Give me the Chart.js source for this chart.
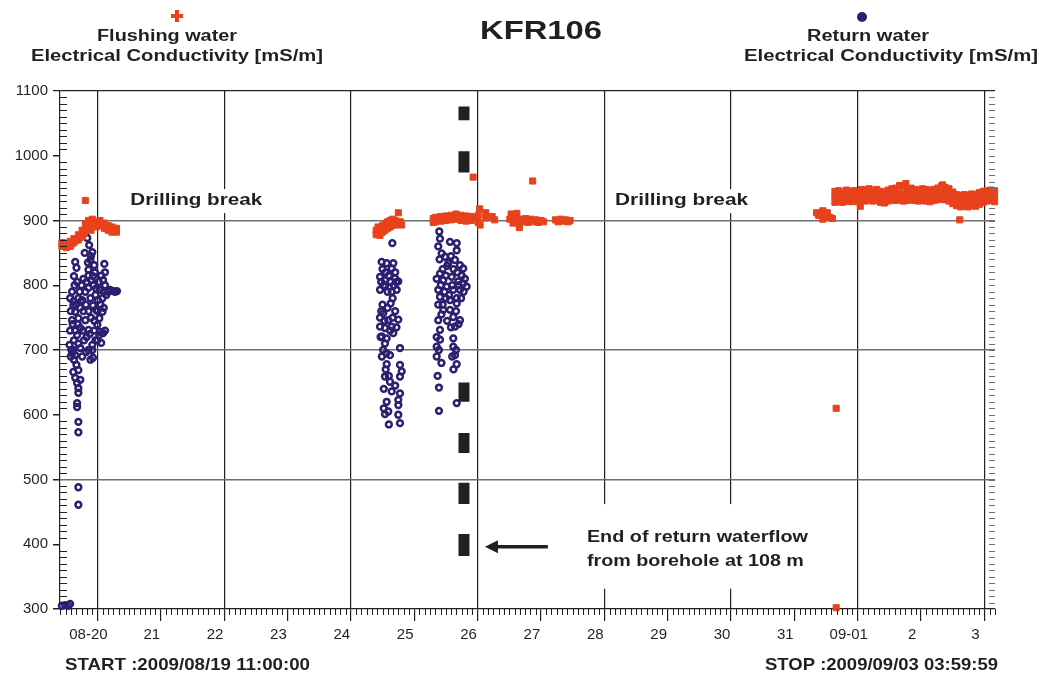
<!DOCTYPE html>
<html><head><meta charset="utf-8">
<script src="https://cdn.jsdelivr.net/npm/chart.js@4.4.1/dist/chart.umd.min.js"></script>
<style>html,body{margin:0;padding:0;background:#fff}#wrap{width:1039px;height:677px;position:relative}</style>
</head><body><div id="wrap"><canvas id="c"></canvas></div>
<script>
// x values are days of August 2009 (32 = Sep 1 00:00)
const xTickValues = [20,21,22,23,24,25,26,27,28,29,30,31,32,33,34];
const xTickLabels = ['08-20','21','22','23','24','25','26','27','28','29','30','31','09-01','2','3'];
const yTickValues = [300,400,500,600,700,800,900,1000,1100];

const flushingWater = [
[19.44,866],[19.44,860],[19.47,863],[19.51,865],[19.51,858],[19.54,862],[19.57,868],[19.57,860],[19.60,864],[19.63,872],[19.63,866],[19.66,869],[19.70,878],[19.70,870],
[19.73,874],[19.76,885],[19.76,875],[19.79,880],[19.81,895],[19.81,885],[19.81,931],[19.84,892],[19.86,900],[19.86,890],[19.90,885],[19.92,902],[19.92,893],
[19.95,896],[19.98,898],[19.98,890],[20.01,895],[20.04,900],[20.04,892],[20.08,894],[20.11,896],[20.11,888],[20.14,890],[20.17,892],[20.17,885],[20.20,887],[20.23,890],[20.23,882],[20.27,885],[20.30,888],[20.30,882],
[24.40,885],[24.40,878],[24.43,890],[24.43,880],[24.46,888],[24.46,877],[24.50,882],[24.50,892],[24.54,895],[24.54,885],[24.58,898],[24.58,888],
[24.62,900],[24.62,890],[24.66,902],[24.66,893],[24.70,900],[24.70,893],[24.74,897],[24.75,912],[24.78,898],[24.80,893],
[25.30,903],[25.30,897],[25.34,905],[25.34,898],[25.38,903],[25.42,906],[25.42,899],[25.46,904],[25.50,907],[25.50,900],[25.54,905],[25.58,908],
[25.58,901],[25.62,906],[25.66,910],[25.66,902],[25.70,906],[25.74,908],[25.74,900],[25.78,905],[25.82,907],[25.82,899],[25.86,904],[25.90,906],
[25.90,900],[25.94,905],[25.98,903],[26.01,908],[26.01,897],[26.03,918],[26.04,893],[25.93,967],[26.13,912],[26.13,904],[26.23,906],[26.27,901],
[26.51,902],[26.53,910],[26.56,896],[26.59,903],[26.62,911],[26.64,897],[26.66,889],[26.68,902],[26.72,898],[26.76,903],[26.80,897],[26.84,902],
[26.88,898],[26.92,901],[26.96,897],[27.00,900],[27.04,898],[26.87,961],
[27.23,901],[27.27,898],[27.31,902],[27.35,899],[27.39,901],[27.43,898],[27.46,900],
[31.35,912],[31.38,908],[31.42,910],[31.45,915],[31.45,902],[31.48,906],[31.52,912],[31.56,905],[31.60,903],
[31.66,610],[31.66,302],[32.04,922],[33.61,901],[32.76,957],[33.34,955],
[31.64,945],[31.64,937],[31.64,928],[31.70,946],[31.70,938],[31.70,929],[31.76,944],[31.76,936],[31.76,928],[31.82,947],[31.82,939],[31.82,930],
[31.88,945],[31.88,937],[31.88,929],[31.94,946],[31.94,938],[31.94,930],[32.00,944],[32.00,936],[32.00,929],[32.06,948],[32.06,940],[32.06,931],
[32.12,947],[32.12,938],[32.12,930],[32.18,949],[32.18,940],[32.18,932],[32.24,946],[32.24,938],[32.24,930],[32.30,948],[32.30,939],[32.30,931],
[32.36,945],[32.36,937],[32.36,928],[32.42,944],[32.42,936],[32.42,927],[32.48,947],[32.48,938],[32.48,930],[32.54,949],[32.54,940],[32.54,932],
[32.60,950],[32.60,940],[32.60,931],[32.66,954],[32.66,942],[32.66,932],[32.72,952],[32.72,940],[32.72,930],[32.78,948],[32.78,939],[32.78,931],
[32.84,950],[32.84,941],[32.84,932],[32.90,948],[32.90,940],[32.90,931],[32.96,947],[32.96,939],[32.96,930],[33.02,949],[33.02,940],[33.02,931],
[33.08,948],[33.08,939],[33.08,930],[33.14,946],[33.14,938],[33.14,929],[33.20,948],[33.20,940],[33.20,931],[33.26,950],[33.26,941],[33.26,932],
[33.32,953],[33.32,942],[33.32,933],[33.38,951],[33.38,941],[33.38,932],[33.44,949],[33.44,939],[33.44,930],[33.50,944],[33.50,935],[33.50,926],
[33.56,940],[33.56,931],[33.56,923],[33.62,938],[33.62,930],[33.62,921],[33.68,940],[33.68,931],[33.68,922],[33.74,939],[33.74,929],[33.74,921],
[33.80,941],[33.80,932],[33.80,923],[33.86,940],[33.86,931],[33.86,922],[33.92,943],[33.92,934],[33.92,925],[33.98,945],[33.98,937],[33.98,928],
[34.04,946],[34.04,938],[34.04,930],[34.10,947],[34.10,939],[34.10,931],[34.16,946],[34.16,937],[34.16,929]
];

const returnWater = [
[19.84,873],[19.87,862],[19.92,851],[19.89,839],[19.95,831],[19.86,824],[19.93,814],
[19.65,836],[19.67,827],[19.63,814],[20.11,833],[20.12,820],[20.09,808],[19.57,780],
[19.62,769],[19.65,759],[19.60,746],[19.70,749],[19.73,765],[19.76,777],[19.81,790],[19.86,796],[19.89,780],[19.93,769],[19.97,785],[20.01,777],
[20.04,793],[20.08,780],[20.12,800],[20.17,790],[20.20,793],[20.25,791],[20.28,790],[20.31,791],[19.98,762],[20.03,749],[20.08,759],[20.00,739],
[20.04,728],[19.97,715],[19.92,708],[19.86,731],[19.81,746],[19.73,734],[19.68,723],[19.63,715],[19.59,700],[19.56,708],[19.65,692],[19.73,703],
[19.79,715],[19.82,697],[19.89,685],[20.06,711],[20.09,726],[20.03,723],[19.92,700],[19.93,688],
[19.60,695],[19.63,685],[19.67,677],[19.62,666],[19.65,657],[19.70,669],[19.73,654],[19.68,649],[19.70,641],[19.70,634],[19.68,618],[19.68,612],
[19.70,589],[19.70,573],[19.70,488],[19.70,461],[19.44,305],[19.49,306],[19.54,305],[19.57,308],
[19.60,790],[19.64,800],[19.68,805],[19.72,790],[19.75,800],[19.78,810],[19.83,805],[19.86,815],[19.90,808],[19.94,800],[19.98,795],[20.02,805],
[20.06,815],[20.10,790],[20.14,785],[19.58,760],[19.62,775],[19.66,770],[19.70,780],[19.74,775],[19.78,760],[19.82,770],[19.86,760],[19.90,750],
[19.95,745],[20.00,760],[20.05,770],[20.10,765],[19.57,730],[19.61,740],[19.65,730],[19.69,740],[19.77,730],[19.83,720],[19.88,725],[19.95,730],
[20.00,715],[20.12,730],[19.58,690],[19.62,700],[19.70,710],[19.76,690],[19.86,700],[19.90,845],[19.85,835],[19.96,820],[19.80,850],
[24.655,865],[24.487,836],[24.566,834],[24.670,834],[24.645,826],[24.461,813],[24.539,808],[24.697,811],[24.749,806],[24.461,793],[24.539,798],
[24.645,790],[24.724,793],[24.629,772],[24.513,757],[24.591,746],[24.461,736],[24.539,734],[24.645,736],[24.487,721],[24.566,718],[24.670,726],
[24.539,710],[24.749,747],[24.776,703],[24.618,692],[24.566,678],[24.776,677],[24.803,667],[24.776,659],[24.539,659],[24.618,651],[24.645,636],
[24.776,633],[24.566,620],[24.749,623],[24.591,605],[24.539,601],[24.749,600],[24.776,587],
[24.50,825],[24.52,800],[24.60,815],[24.68,800],[24.72,805],[24.48,760],[24.53,745],[24.62,730],[24.51,700],[24.56,695],[24.47,720],
[24.48,805],[24.55,820],[24.63,805],[24.70,820],[24.58,790],[24.66,780],[24.50,770],[24.58,765],[24.70,760],[24.46,750],[24.66,750],[24.72,735],
[24.49,690],[24.55,670],[24.60,660],[24.52,640],[24.70,645],[24.75,615],[24.60,585],[24.52,610],
[25.396,883],[25.407,872],[25.380,860],[25.434,849],[25.565,867],[25.671,865],[25.671,854],[25.486,844],[25.538,834],[25.644,839],[25.722,831],
[25.774,826],[25.407,818],[25.355,810],[25.459,808],[25.592,813],[25.696,806],[25.774,803],[25.380,793],[25.513,798],[25.617,793],[25.722,793],
[25.828,798],[25.407,782],[25.565,777],[25.671,780],[25.459,762],[25.565,762],[25.671,772],[25.380,746],[25.617,751],[25.722,746],[25.407,731],
[25.644,736],[25.355,720],[25.407,716],[25.617,718],[25.355,705],[25.617,705],[25.355,690],[25.644,692],[25.671,678],[25.391,642],[25.671,618],
[25.391,606],[25.45,825],[25.50,815],[25.60,800],[25.55,785],[25.75,815],[25.78,790],[25.50,780],[25.45,770],
[25.40,840],[25.42,800],[25.48,790],[25.52,830],[25.58,845],[25.62,825],[25.68,820],[25.70,800],[25.74,780],[25.80,810],[25.38,770],[25.43,755],
[25.52,745],[25.58,735],[25.66,760],[25.70,740],[25.39,700],[25.43,680],[25.60,690],[25.66,700],[25.62,670],[25.37,660]
];

// black bars marking end of return waterflow (value ranges)
const endOfFlowDay = 25.786;
const endOfFlowMarks = [[1076,1055],[1007,974],[650,620],[572,541],[495,462],[416,382]];

const ink = '#231f20';
const red = '#e8421c';
const blue = '#2b2070';
const FONT = '"Liberation Sans", Arial, sans-serif';

const markData = [];
endOfFlowMarks.forEach(([a,b]) => { markData.push({x:endOfFlowDay,y:a},{x:endOfFlowDay,y:b},{x:endOfFlowDay,y:null}); });

// draw bold text stretched horizontally to a given width
function txtW(ctx, s, x, y, size, align, width, bg, pad) {
  ctx.save();
  ctx.font = 'bold ' + size + 'px ' + FONT;
  ctx.letterSpacing = '0px';
  const w = ctx.measureText(s).width;
  const k = width / w;
  if (bg) {
    const left = align === 'center' ? x - width/2 : (align === 'right' ? x - width : x);
    ctx.fillStyle = '#fff';
    ctx.fillRect(left - pad, y - size/2 - pad, width + 2*pad, size + 2*pad);
  }
  ctx.translate(x, y); ctx.scale(k, 1);
  ctx.textAlign = align; ctx.textBaseline = 'middle'; ctx.fillStyle = ink;
  ctx.fillText(s, 0, 0);
  ctx.restore();
}

const decor = {
  id: 'decor',
  afterDraw(chart) {
    const {ctx, chartArea: ca, scales: {x, y}} = chart;
    ctx.save();
    ctx.strokeStyle = ink; ctx.lineWidth = 1;
    ctx.beginPath();
    for (let k = Math.ceil(x.min*12); k <= Math.floor(x.max*12); k++) {
      if (k % 12 === 0) continue;
      const px = Math.round(x.getPixelForValue(k/12)) + 0.5;
      ctx.moveTo(px, ca.bottom); ctx.lineTo(px, ca.bottom + 6);
    }
    for (let v = 310; v < 1100; v += 10) {
      if (v % 100 === 0) continue;
      const py = Math.round(y.getPixelForValue(v)) + 0.5;
      ctx.moveTo(ca.left, py); ctx.lineTo(ca.left + 7, py);
    }
    ctx.stroke();
    ctx.strokeStyle = '#6d6e71';
    ctx.beginPath();
    for (let v = 310; v < 1100; v += 10) {
      const py = Math.round(y.getPixelForValue(v)) + 0.5;
      ctx.moveTo(ca.right - 6, py); ctx.lineTo(ca.right, py);
    }
    ctx.stroke();

    // title & legends
    txtW(ctx, 'KFR106', 541, 32, 25, 'center', 122);
    ctx.fillStyle = red;
    ctx.fillRect(171, 14, 12, 4); ctx.fillRect(175, 10, 4, 12);
    txtW(ctx, 'Flushing water', 167, 37, 16, 'center', 140);
    txtW(ctx, 'Electrical Conductivity [mS/m]', 177, 57, 16, 'center', 292);
    ctx.fillStyle = blue;
    ctx.beginPath(); ctx.arc(862, 17, 5, 0, Math.PI*2); ctx.fill();
    txtW(ctx, 'Return water', 868, 37, 16, 'center', 122);
    txtW(ctx, 'Electrical Conductivity [mS/m]', 891, 57, 16, 'center', 294);

    // annotations anchored on the scales
    txtW(ctx, 'Drilling break', x.getPixelForValue(21.56), y.getPixelForValue(930), 16, 'center', 132, true, 4);
    txtW(ctx, 'Drilling break', x.getPixelForValue(29.22), y.getPixelForValue(930), 16, 'center', 133, true, 4);

    const ex = x.getPixelForValue(27.726);
    const ey1 = y.getPixelForValue(411), ey2 = y.getPixelForValue(373);
    ctx.fillStyle = '#fff';
    ctx.fillRect(ex - 7, ey1 - 33, 235, (ey2 + 27) - (ey1 - 33));
    txtW(ctx, 'End of return waterflow', ex, ey1, 16, 'left', 221);
    txtW(ctx, 'from borehole at 108 m', ex, ey2, 16, 'left', 217);

    // arrow
    const ay = y.getPixelForValue(396);
    const ax0 = x.getPixelForValue(27.11), ax1 = x.getPixelForValue(26.117);
    ctx.strokeStyle = ink; ctx.lineWidth = 3.5;
    ctx.beginPath(); ctx.moveTo(ax0, ay); ctx.lineTo(ax1 + 10, ay); ctx.stroke();
    ctx.fillStyle = ink;
    ctx.beginPath(); ctx.moveTo(ax1, ay); ctx.lineTo(ax1 + 13, ay - 6.5); ctx.lineTo(ax1 + 13, ay + 6.5); ctx.closePath(); ctx.fill();

    // start / stop
    txtW(ctx, 'START :2009/08/19 11:00:00', 65, 665, 17, 'left', 245);
    txtW(ctx, 'STOP :2009/09/03 03:59:59', 998, 665, 17, 'right', 233);
    ctx.restore();
  }
};

new Chart(document.getElementById('c'), {
  type: 'scatter',
  data: {
    datasets: [
      {
        type: 'line', label: 'End of return waterflow', data: markData,
        borderColor: ink, borderWidth: 11, borderCapStyle: 'butt', pointRadius: 0,
        spanGaps: false, order: 0, clip: false
      },
      {
        label: 'Flushing water Electrical Conductivity [mS/m]',
        data: flushingWater.map(([a,b]) => ({x:a, y:b})),
        pointStyle: 'rect', pointRadius: 4.3, backgroundColor: red, borderColor: red, borderWidth: 1,
        order: 1, clip: false
      },
      {
        label: 'Return water Electrical Conductivity [mS/m]',
        data: returnWater.map(([a,b]) => ({x:a, y:b})),
        pointStyle: 'circle', pointRadius: 2.9, backgroundColor: 'rgba(0,0,0,0)', borderColor: blue, borderWidth: 2.5,
        order: 2, clip: false
      }
    ]
  },
  options: {
    responsive: true, maintainAspectRatio: false, animation: false, events: [],
    layout: {padding: {left: 0, top: 91, right: 44, bottom: 28}},
    plugins: {legend: {display: false}, tooltip: {enabled: false}, title: {display: false}},
    scales: {
      x: {
        type: 'linear', min: 19.41, max: 34.1667,
        afterBuildTicks: s => { s.ticks = xTickValues.map(v => ({value: v})); },
        afterFit: s => { s.height = 40; },
        ticks: {
          autoSkip: false, maxRotation: 0, padding: 5, labelOffset: -9, color: ink,
          font: {family: FONT, size: 15},
          callback: v => xTickLabels[xTickValues.indexOf(v)]
        },
        grid: {
          color: c => (c.tick && c.tick.value % 2 === 0) ? ink : 'rgba(0,0,0,0)',
          tickColor: ink, tickLength: 12, lineWidth: 1.2
        },
        border: {display: true, color: ink, width: 1.2}
      },
      y: {
        type: 'linear', min: 300, max: 1100,
        afterBuildTicks: s => { s.ticks = yTickValues.map(v => ({value: v})); },
        afterFit: s => { s.width = 60; },
        ticks: {
          padding: 5, color: ink,
          font: {family: FONT, size: 15},
          callback: v => String(v)
        },
        grid: {
          color: c => {
            const v = c.tick && c.tick.value;
            if (v === 1100) return ink;
            if (v === 500 || v === 700 || v === 900) return '#6d6e71';
            return 'rgba(0,0,0,0)';
          },
          lineWidth: c => (c.tick && c.tick.value === 1100) ? 1.2 : 1.5,
          tickColor: ink, tickLength: 7
        },
        border: {display: true, color: ink, width: 1.2}
      }
    }
  },
  plugins: [decor]
});
</script>
</body></html>
